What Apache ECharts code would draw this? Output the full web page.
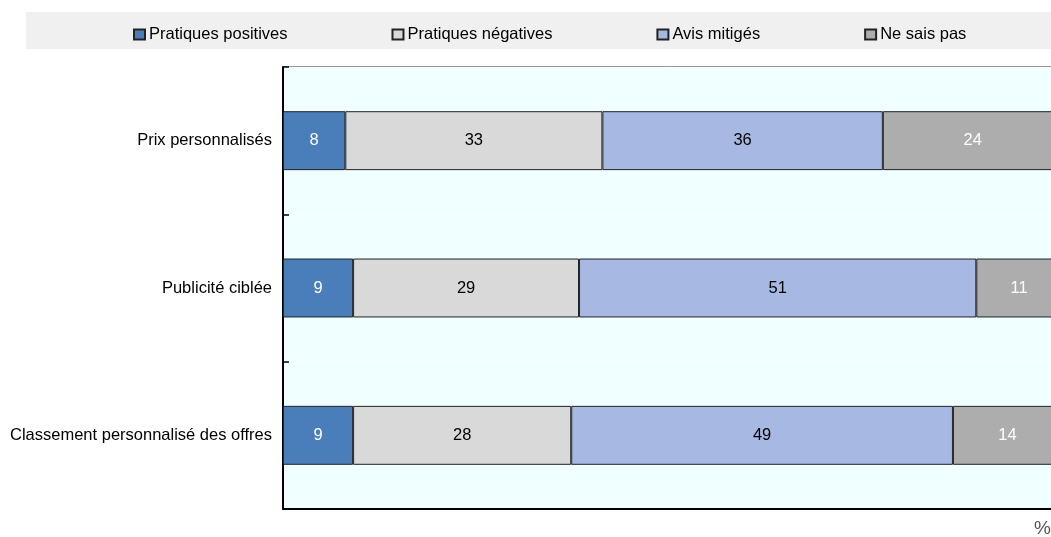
<!DOCTYPE html>
<html>
<head>
<meta charset="utf-8">
<script src="https://cdn.jsdelivr.net/npm/echarts@6/dist/echarts.min.js"></script>
<style>
  html, body { margin: 0; padding: 0; background: #ffffff; }
  #chart { width: 1051px; height: 537px; }
</style>
</head>
<body>
<div id="chart"></div>
<script>
// Survey answers per personalisation practice, in percent
const categories = ['Prix personnalisés', 'Publicité ciblée', 'Classement personnalisé des offres'];
const seriesNames = ['Pratiques positives', 'Pratiques négatives', 'Avis mitigés', 'Ne sais pas'];
const positives = [8, 9, 9];
const negatives = [33, 29, 28];
const mitiges = [36, 51, 49];
const neSaisPas = [24, 11, 14];

const FONT = '"Liberation Sans", Arial, sans-serif';
const colors = ['#4a7ebb', '#d9d9d9', '#a7b8e2', '#adadad'];
const labelColors = ['#ffffff', '#000000', '#000000', '#ffffff'];
const values = [positives, negatives, mitiges, neSaisPas];

const chart = echarts.init(document.getElementById('chart'), null, { renderer: 'canvas' });

const series = seriesNames.map((name, i) => ({
  name: name,
  type: 'bar',
  stack: 'total',
  barWidth: '40%',
  data: values[i],
  itemStyle: { color: colors[i], borderColor: '#222222', borderWidth: 1 },
  label: {
    show: true,
    position: 'inside',
    color: labelColors[i],
    fontFamily: FONT,
    fontSize: 16.5
  },
  emphasis: { disabled: true }
}));

chart.setOption({
  animation: false,
  graphic: [
    {
      type: 'rect',
      z: -10,
      shape: { x: 26, y: 12, width: 1025, height: 37 },
      style: { fill: '#f0f0f0' }
    },
    {
      type: 'text',
      left: 1034,
      top: 519,
      style: { text: '%', fill: '#555555', font: '19px ' + FONT }
    }
  ],
  legend: {
    left: 128,
    top: 21,
    width: 950,
    itemWidth: 11,
    itemHeight: 10,
    itemGap: 104,
    icon: 'rect',
    textStyle: { fontFamily: FONT, fontSize: 16.5, color: '#000000', padding: [0, 0, 0, -1] },
    data: seriesNames
  },
  grid: {
    left: 283,
    top: 67,
    width: 779,
    bottom: 28,
    outerBoundsMode: 'none',
    containLabel: false,
    show: true,
    backgroundColor: '#f0ffff',
    borderColor: '#333333',
    borderWidth: 1
  },
  xAxis: {
    type: 'value',
    min: 0,
    max: 100,
    axisLabel: { show: false },
    axisTick: { show: false },
    splitLine: { show: false },
    axisLine: { show: true, lineStyle: { color: '#000000', width: 2 } }
  },
  yAxis: {
    type: 'category',
    inverse: true,
    data: categories,
    axisLine: { show: true, lineStyle: { color: '#000000', width: 2 } },
    axisTick: { show: true, inside: true, length: 6, lineStyle: { color: '#000000', width: 1.5 } },
    splitLine: { show: true, lineStyle: { color: '#ffffff', width: 1 } },
    axisLabel: { fontFamily: FONT, fontSize: 16.5, color: '#000000', margin: 11 }
  },
  series: series
});
</script>
</body>
</html>
